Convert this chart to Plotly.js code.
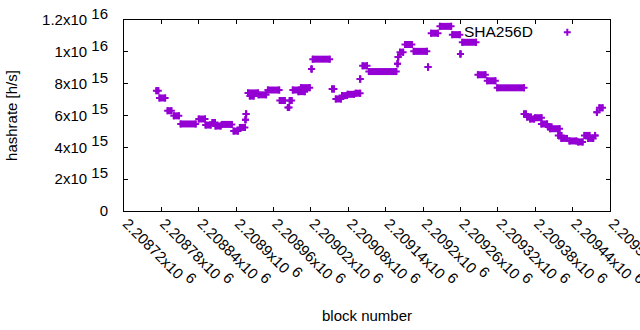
<!DOCTYPE html>
<html><head><meta charset="utf-8">
<script src="https://cdn.plot.ly/plotly-3.0.1.min.js"></script>
<style>html,body{margin:0;padding:0;background:#fff}</style>
</head><body>
<div id="chart" style="width:640px;height:330px"></div>
<script>
// ---- data (runs of equal hashrate) ----
const seriesName = 'SHA256D';
const runStart = [2208772,2208777,2208790,2208800,2208811,2208840,2208851,2208862,2208867,2208877,2208896,2208906,2208915,2208916,2208919,2208922,2208936,2208951,2208970,2208983,2208986,2208991,2209000,2209004,2209021,2209023,2209054,2209060,2209070,2209079,2209092,2209099,2209103,2209113,2209159,2209160,2209163,2209171,2209185,2209208,2209213,2209227,2209247,2209260,2209263,2209288,2209303,2209319,2209362,2209367,2209372,2209380,2209390,2209401,2209404,2209417,2209422,2209435,2209449,2209459,2209465,2209476,2209479,2209483];
const runEnd   = [2208775,2208786,2208796,2208808,2208835,2208850,2208859,2208866,2208875,2208893,2208903,2208914,2208915,2208916,2208935,2208928,2208948,2208969,2208978,2208985,2208989,2209001,2209010,2209018,2209021,2209050,2209057,2209068,2209078,2209089,2209099,2209099,2209110,2209157,2209159,2209160,2209168,2209182,2209206,2209208,2209224,2209245,2209259,2209260,2209285,2209300,2209316,2209362,2209365,2209373,2209378,2209390,2209399,2209406,2209419,2209422,2209431,2209446,2209456,2209467,2209473,2209476,2209479,2209488];
const runValue = [7.56e15,7.10e15,6.30e15,5.98e15,5.47e15,5.78e15,5.40e15,5.56e15,5.34e15,5.44e15,5.02e15,5.25e15,5.73e15,6.10e15,7.42e15,7.22e15,7.30e15,7.60e15,6.94e15,6.50e15,6.94e15,7.60e15,7.50e15,7.75e15,8.92e15,9.54e15,7.67e15,7.04e15,7.25e15,7.33e15,7.40e15,8.29e15,9.12e15,8.76e15,9.25e15,9.67e15,9.98e15,1.046e16,1.003e16,9.04e15,1.117e16,1.160e16,1.108e16,9.87e15,1.060e16,8.56e15,8.18e15,7.74e15,6.10e15,5.90e15,5.78e15,5.86e15,5.47e15,5.28e15,5.17e15,4.75e15,4.56e15,4.40e15,4.34e15,4.75e15,4.56e15,4.75e15,6.20e15,6.48e15];

// ---- tick labels ----
const xTickVals = [2208720,2208780,2208840,2208900,2208960,2209020,2209080,2209140,2209200,2209260,2209320,2209380,2209440,2209500];
const xTickMantissa = ['2.20872','2.20878','2.20884','2.2089','2.20896','2.20902','2.20908','2.20914','2.2092','2.20926','2.20932','2.20938','2.20944','2.2095'];
const xTickExp = ['6','6','6','6','6','6','6','6','6','6','6','6','6','6'];
const yTickVals = [0,2e15,4e15,6e15,8e15,1e16,1.2e16];
const yTickMantissa = ['0','2','4','6','8','1','1.2'];
const yTickExp = ['','15','15','15','15','16','16'];

const COLOR = '#9400D3';
const FS = 15;
function sci(m, e) {
  if (!e) return m;
  return m + 'x10 <sup><span style="font-size:' + FS + 'px">' + e + '</span></sup>';
}

// padding of one pixel (half the plus stroke) in data units
const plotW = 640 - 124 - 30;
const blocksPerPx = (xTickVals[xTickVals.length-1] - xTickVals[0]) / plotW;
const pad = 1.0 * blocksPerPx;

const centers = runStart.map((s, i) => (s + runEnd[i]) / 2);
const halfs = runStart.map((s, i) => (runEnd[i] - s) / 2 + pad);

const rectTrace = {
  type: 'scatter', mode: 'markers', x: centers, y: runValue,
  marker: {opacity: 0, size: 1, color: COLOR},
  error_x: {type: 'data', symmetric: true, array: halfs, visible: true, color: COLOR, thickness: 7, width: 0},
  showlegend: false, hoverinfo: 'skip'
};
const pointTrace = {
  type: 'scatter', mode: 'markers', name: ' ',
  x: runStart.concat(runEnd), y: runValue.concat(runValue),
  marker: {symbol: 'cross-thin-open', size: 5, color: COLOR, line: {color: COLOR, width: 2}},
  showlegend: true
};

const layout = {
  width: 640, height: 330,
  margin: {l: 124, r: 30, t: 20, b: 119, pad: 0},
  paper_bgcolor: '#fff', plot_bgcolor: '#fff',
  font: {family: '"Liberation Sans", Arial, sans-serif', size: FS, color: '#000'},
  showlegend: true,
  legend: {x: 0.871, y: 1.021, xanchor: 'left', yanchor: 'top', bgcolor: 'rgba(0,0,0,0)', borderwidth: 0, font: {size: FS}},
  xaxis: {
    range: [xTickVals[0], xTickVals[xTickVals.length-1]],
    tickmode: 'array', tickvals: xTickVals, ticktext: xTickMantissa.map((m, i) => sci(m, xTickExp[i])),
    tickangle: 45, ticks: 'inside', ticklen: 4, tickcolor: '#000', tickwidth: 1,
    ticklabeloverflow: 'allow', ticklabelshift: 3, ticklabelstandoff: -3,
    showline: true, linecolor: '#000', linewidth: 1, mirror: 'allticks',
    showgrid: false, zeroline: false, automargin: false,
    title: {text: 'block number', standoff: 20, font: {size: FS}}
  },
  yaxis: {
    range: [0, 1.2e16],
    tickmode: 'array', tickvals: yTickVals, ticktext: yTickMantissa.map((m, i) => sci(m, yTickExp[i])),
    ticks: 'inside', ticklen: 4, tickcolor: '#000', tickwidth: 1, ticklabelstandoff: 12,
    showline: true, linecolor: '#000', linewidth: 1, mirror: 'allticks',
    showgrid: false, zeroline: false, automargin: false,
    title: {text: 'hashrate [h/s]', standoff: 20, font: {size: FS}}
  },
  annotations: [{
    text: seriesName, xref: 'paper', yref: 'paper', x: 0.8462, y: 0.9398,
    xanchor: 'right', yanchor: 'middle', showarrow: false, font: {size: 15.5, color: '#000'}
  }]
};

Plotly.newPlot('chart', [rectTrace, pointTrace], layout, {staticPlot: true, displayModeBar: false});
</script>
</body></html>
